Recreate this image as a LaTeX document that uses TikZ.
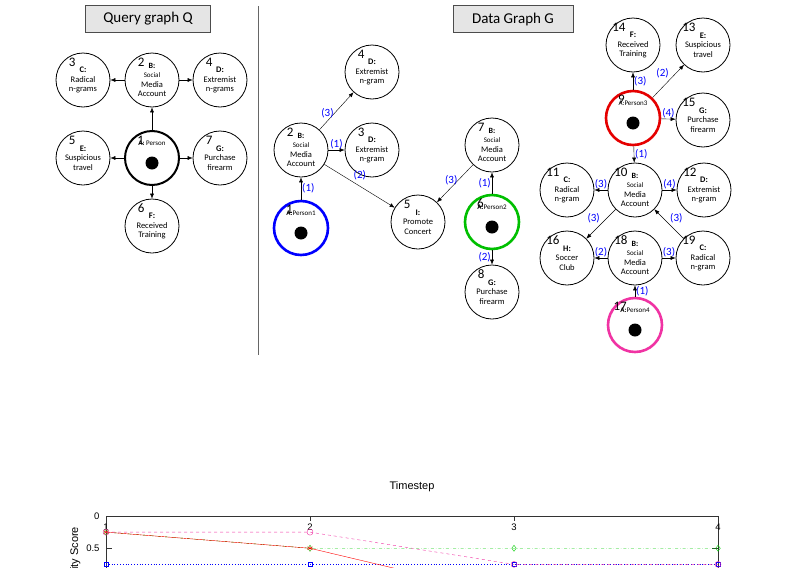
\documentclass[tikz,border=0pt]{standalone}
\usepackage{fontspec}
\setmainfont{Carlito}
\newfontfamily\chartfont{Liberation Sans}
\usetikzlibrary{positioning, arrows.meta, plotmarks}
\tikzset{
    vert/.style={circle, draw=black, thick, fill=white, minimum size=54pt, inner sep=0pt, align=center, font=\fontsize{8.5}{9.5}\selectfont},
    person/.style={vert, line width=2.6pt, font=\fontsize{7}{8}\selectfont,
        path picture={\fill[black] ([yshift=-5pt]path picture bounding box.center) circle (6.5pt)
            ([xshift=-13pt,yshift=-27pt]path picture bounding box.center) -- ++(0,8) to[out=90,in=180] ++(7,6) -- ++(12,0) to[out=0,in=90] ++(7,-6) -- ++(0,-8) -- cycle;}},
    num/.style={font=\fontsize{13}{13}\selectfont, inner sep=0pt},
    hop/.style={font=\fontsize{11}{11}\selectfont, text=blue, inner sep=1pt},
    title/.style={draw=black!70, fill=black!10, font=\fontsize{15}{15}\selectfont, minimum width=120pt, minimum height=27pt},
    arrow/.style={-{Latex[length=5pt,width=4pt]}, thin},
    ser1/.style={blue, dotted, thick},
    ser6/.style={green!80!black, dash dot},
    ser9/.style={red},
    ser17/.style={magenta!80, dashed}
}
\newcommand{\smacct}{\fontsize{8}{8.5}\selectfont\textbf{B:}\\\fontsize{7}{7.5}\selectfont Social\\Media\\Account}
\begin{document}
\begin{tikzpicture}[x=1pt, y=-1pt]
    \useasboundingbox (0,0) rectangle (796,568);

    % Query graph
    \node[title, minimum width=125pt] (QT) at (148,19) {Query graph Q};
    \node[vert] (Qb) at (152,80) {\smacct};
    \node[vert] (Qc) at (83,80) {\textbf{C:}\\Radical\\n-grams};
    \node[vert] (Qd) at (220,80) {\textbf{D:}\\Extremist\\n-grams};
    \node[person, line width=2pt] (Qa) at (152,158) {\textbf{A:} Person\\[22pt]};
    \node[vert] (Qe) at (83,158) {\textbf{E:}\\Suspicious\\travel};
    \node[vert] (Qg) at (220,158) {\textbf{G:}\\Purchase\\firearm};
    \node[vert] (Qf) at (152,226) {\textbf{F:}\\Received\\Training};
    \foreach \v/\n in {Qa/1, Qb/2, Qc/3, Qd/4, Qe/5, Qf/6, Qg/7}
        \node[num, anchor=south east] at (\v.north west) [xshift=12pt, yshift=-6pt] {\n};
    \draw[arrow] (Qa) -- (Qb);
    \draw[arrow] (Qb) -- (Qc);
    \draw[arrow] (Qb) -- (Qd);
    \draw[arrow] (Qa) -- (Qe);
    \draw[arrow] (Qa) -- (Qg);
    \draw[arrow] (Qa) -- (Qf);

    \draw[black!60] (258,6) -- (258,355);

    % Data graph
    \node[title] (DT) at (513,19) {Data Graph G};
    \node[vert] (D4) at (372,72) {\textbf{D:}\\Extremist\\n-gram};
    \node[vert] (D2) at (301,150) {\smacct};
    \node[vert] (D3) at (372,150) {\textbf{D:}\\Extremist\\n-gram};
    \node[person, draw=blue] (D1) at (301,228) {\textbf{A:}Person1\\[22pt]};
    \node[vert] (D5) at (418,222) {\textbf{I:}\\Promote\\Concert};
    \node[vert] (D7) at (492,145) {\smacct};
    \node[person, draw=green!75!black] (D6) at (492,222) {\textbf{A:}Person2\\[22pt]};
    \node[vert] (D8) at (492,292) {\textbf{G:}\\Purchase\\firearm};
    \node[vert] (D14) at (633,45) {\textbf{F:}\\Received\\Training};
    \node[vert] (D13) at (703,45) {\textbf{E:}\\Suspicious\\travel};
    \node[person, draw=red!90!black] (D9) at (633,118) {A:Person3\\[22pt]};
    \node[vert] (D15) at (703,120) {\textbf{G:}\\Purchase\\firearm};
    \node[vert] (D10) at (635,190) {\smacct};
    \node[vert] (D11) at (567,190) {\textbf{C:}\\Radical\\n-gram};
    \node[vert] (D12) at (704,190) {\textbf{D:}\\Extremist\\n-gram};
    \node[vert] (D16) at (567,258) {\textbf{H:}\\Soccer\\Club};
    \node[vert] (D18) at (635,258) {\smacct};
    \node[vert] (D19) at (703,258) {\textbf{C:}\\Radical\\n-gram};
    \node[person, draw=magenta!80] (D17) at (635,325) {\textbf{A:}Person4\\[22pt]};
    \foreach \n in {1,...,19}
        \node[num, anchor=south east] at (D\n.north west) [xshift=12pt, yshift=-6pt] {\n};

    \draw[arrow] (D1) -- node[hop, right] {(1)} (D2);
    \draw[arrow] (D2) -- node[hop, above] {(1)} (D3);
    \draw[arrow] (D2) -- node[hop, left, pos=0.45] {(3)} (D4);
    \draw[arrow] (D2) -- node[hop, above right, pos=0.4] {(2)} (D5);
    \draw[arrow] (D7) -- node[hop, left, pos=0.4] {(3)} (D5);
    \draw[arrow] (D6) -- node[hop, left] {(1)} (D7);
    \draw[arrow] (D6) -- node[hop, left] {(2)} (D8);
    \draw[arrow] (D9) -- node[hop, right] {(3)} (D14);
    \draw[arrow] (D9) -- node[hop, above left, pos=0.55] {(2)} (D13);
    \draw[arrow] (D9) -- node[hop, above] {(4)} (D15);
    \draw[arrow] (D9) -- node[hop, right] {(1)} (D10);
    \draw[arrow] (D10) -- node[hop, above] {(3)} (D11);
    \draw[arrow] (D10) -- node[hop, above] {(4)} (D12);
    \draw[arrow] (D10) -- node[hop, above left] {(3)} (D16);
    \draw[arrow] (D19) -- node[hop, above right] {(3)} (D10);
    \draw[arrow] (D18) -- node[hop, above] {(2)} (D16);
    \draw[arrow] (D18) -- node[hop, above] {(3)} (D19);
    \draw[arrow] (D17) -- node[hop, right] {(1)} (D18);

    % Chart
    \begin{scope}[shift={(106,516)}, x=204pt, y=-64.5pt, font=\chartfont\fontsize{9.5}{10}\selectfont]
        \node[font=\chartfont\bfseries\fontsize{10}{10}\selectfont] (CT) at (1.5,2.17) {Multi-hop class similarity score over time};
        \draw[black!80] (0,0) rectangle (3,2);
        \foreach \t in {1,...,4} {
            \draw[black!80] (\t-1,0) -- ++(0,0.08) (\t-1,2) -- ++(0,-0.08);
            \node[below=4pt] at (\t-1,0) {\t};
        }
        \foreach \v in {0,0.5,1,1.5,2} {
            \draw[black!80] (0,\v) -- ++(0.03,0) (3,\v) -- ++(-0.03,0);
            \node[left=3pt] at (0,\v) {\v};
        }
        \node[font=\chartfont\fontsize{11}{11}\selectfont] (XL) at (1.5,-0.45) {Timestep};
        \node[rotate=90, font=\chartfont\fontsize{11}{11}\selectfont] (YL) at (-0.15,1) {Class Similarity Score};
        \draw[ser1, mark=square, mark options={solid, thin}] plot coordinates {(0,0.75) (1,0.75) (2,0.75) (3,0.75)};
        \draw[ser6, mark=diamond, mark size=3pt, mark options={solid}] plot coordinates {(0,0.25) (1,0.5) (2,0.5) (3,0.5)};
        \draw[ser9, mark=asterisk, mark size=3pt] plot coordinates {(0,0.25) (1,0.5) (2,1.25) (3,2)};
        \draw[ser17, mark=o, mark size=3pt, mark options={solid}] plot coordinates {(0,0.25) (1,0.25) (2,0.75) (3,0.75)};
        % legend
        \draw[black!80, fill=white] (0.265,1.88) rectangle (0.785,0.94);
        \foreach \k/\mk/\lab in {0/square/1, 1/diamond/6, 2/asterisk/9, 3/o/17} {
            \draw[ser\lab] (0.29,1.75-0.205*\k) -- (0.44,1.75-0.205*\k);
            \draw[ser\lab, solid, thin] plot[mark=\mk, mark size=2.8pt] coordinates {(0.365,1.75-0.205*\k)};
            \node[anchor=west, inner sep=0pt] at (0.46,1.75-0.205*\k) {Node \lab};
        }
    \end{scope}
\end{tikzpicture}
\end{document}
